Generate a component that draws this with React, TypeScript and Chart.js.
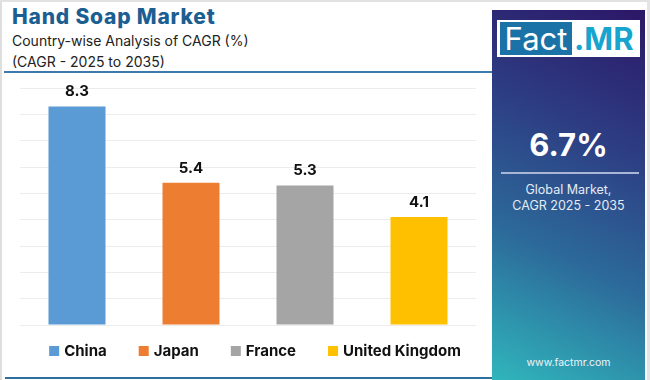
import React, { useEffect, useRef } from "react";
import { Chart, registerables } from "chart.js";

Chart.register(...registerables);

const categories = ["China", "Japan", "France", "United Kingdom"];
const cagrValues = [8.3, 5.4, 5.3, 4.1];
const barColors = ["#5b9bd5", "#ed7d31", "#a5a5a5", "#ffc000"];
const axisMin = 0;
const axisMax = 9;
const axisStep = 1;

const titleText = "Hand Soap Market";
const subtitleLines = ["Country-wise Analysis of CAGR (%)", "(CAGR - 2025 to 2035)"];
const globalValue = "6.7%";
const globalLines = ["Global Market,", "CAGR 2025 - 2035"];
const siteText = "www.factmr.com";

const FONT = "Inter, 'Noto Sans', sans-serif";

const valueLabelPlugin = {
  id: "valueLabels",
  afterDatasetsDraw(chart: any) {
    const ctx = chart.ctx;
    const meta = chart.getDatasetMeta(0);
    ctx.save();
    ctx.font = `700 15px ${FONT}`;
    ctx.fillStyle = "#111111";
    ctx.textAlign = "center";
    ctx.textBaseline = "alphabetic";
    meta.data.forEach((bar: any, i: number) => {
      ctx.fillText(String(cagrValues[i]), bar.x, bar.y - 10);
    });
    ctx.restore();
  },
};

const customLegendPlugin = {
  id: "customLegend",
  afterDraw(chart: any) {
    const ctx = chart.ctx;
    const box = 10;
    const gapText = 5;
    const gapItem = 32;
    ctx.save();
    ctx.font = `700 15px ${FONT}`;
    const widths = categories.map((c) => box + gapText + ctx.measureText(c).width);
    const total = widths.reduce((a, b) => a + b, 0) + gapItem * (categories.length - 1);
    const centerX = chart.chartArea.left + chart.chartArea.width / 2 + 7;
    const cy = chart.chartArea.bottom + 25;
    let x = centerX - total / 2;
    categories.forEach((c, i) => {
      ctx.fillStyle = barColors[i];
      ctx.fillRect(x, cy - box / 2 + 1, box, box);
      ctx.fillStyle = "#111111";
      ctx.textAlign = "left";
      ctx.textBaseline = "middle";
      ctx.fillText(c, x + box + gapText, cy + 1);
      x += widths[i] + gapItem;
    });
    ctx.restore();
  },
};

function BarChart() {
  const ref = useRef<HTMLCanvasElement | null>(null);
  useEffect(() => {
    if (!ref.current) return;
    const chart = new Chart(ref.current, {
      type: "bar",
      data: {
        labels: categories,
        datasets: [
          {
            data: cagrValues,
            backgroundColor: barColors,
            borderWidth: 0,
            barPercentage: 0.5,
            categoryPercentage: 1,
          },
        ],
      },
      options: {
        animation: false,
        responsive: false,
        maintainAspectRatio: false,
        layout: { padding: { left: 20, right: 14, top: 15, bottom: 48 } },
        scales: {
          x: {
            grid: { display: false, drawTicks: false },
            ticks: { display: false },
            border: { display: false },
          },
          y: {
            min: axisMin,
            max: axisMax,
            ticks: { display: false, stepSize: axisStep },
            grid: { color: "#ececec", lineWidth: 1, drawTicks: false },
            border: { display: false },
          },
        },
        plugins: {
          tooltip: { enabled: false },
          legend: { display: false },
        },
      },
      plugins: [valueLabelPlugin, customLegendPlugin],
    });
    return () => chart.destroy();
  }, []);
  return <canvas ref={ref} width={490} height={300} style={{ display: "block" }} />;
}

export default function App() {
  useEffect(() => {
    document.body.style.margin = "0";
  }, []);
  return (
    <div
      style={{
        position: "fixed",
        left: 0,
        top: 0,
        width: 650,
        height: 380,
        background: "#ffffff",
        overflow: "hidden",
        fontFamily: FONT,
      }}
    >
      <div style={{ position: "absolute", left: 0, top: 0, width: 2, height: 380, background: "#dedede" }} />
      <div style={{ position: "absolute", left: 0, top: 0, width: 650, height: 2, background: "#e2e2e2" }} />
      <div style={{ position: "absolute", left: 647, top: 0, width: 3, height: 380, background: "#e4e4e4" }} />
      <div
        style={{
          position: "absolute",
          left: 12,
          top: 4,
          fontSize: 21,
          letterSpacing: 0.8,
          fontWeight: 800,
          color: "#1b5e91",
          whiteSpace: "nowrap",
        }}
      >
        {titleText}
      </div>
      <div style={{ position: "absolute", left: 12, top: 31, fontSize: 14, color: "#222", lineHeight: "20.5px", whiteSpace: "nowrap" }}>
        {subtitleLines.map((l) => (
          <div key={l}>{l}</div>
        ))}
      </div>
      <div style={{ position: "absolute", left: 4, top: 71, width: 488, height: 2, background: "#3d7aab" }} />
      <div style={{ position: "absolute", left: 0, top: 73 }}>
        <BarChart />
      </div>
      <div style={{ position: "absolute", left: 5, top: 377, width: 487, height: 2, background: "#2f6f9f" }} />
      <div
        style={{
          position: "absolute",
          left: 492,
          top: 10,
          width: 153,
          height: 370,
          background: "linear-gradient(205deg, #2c1767 0%, #2d3f84 35%, #2c6a9a 65%, #30b6bc 100%)",
        }}
      >
        <div style={{ position: "absolute", left: 5, top: 10, width: 143, height: 37, background: "#ffffff" }}>
          <div
            style={{
              position: "absolute",
              left: 3,
              top: 2,
              width: 72,
              height: 33,
              background: "#1b72a6",
              color: "#ffffff",
              fontSize: 31,
              lineHeight: "33px",
              fontWeight: 400,
              textAlign: "center",
            }}
          >
            Fact
          </div>
          <div style={{ position: "absolute", left: 77, top: 2, fontSize: 31, lineHeight: "33px", fontWeight: 700, color: "#17a5cf" }}>
            .MR
          </div>
        </div>
        <div style={{ position: "absolute", left: 0, width: 153, top: 116, textAlign: "center", color: "#fff", fontSize: 31, fontWeight: 700 }}>
          {globalValue}
        </div>
        <div style={{ position: "absolute", left: 9, top: 162, width: 138, height: 2, background: "#a9b6d6" }} />
        <div style={{ position: "absolute", left: 0, width: 153, top: 172, textAlign: "center", color: "#e6ecf4", fontSize: 12.5, lineHeight: "16px" }}>
          {globalLines.map((l) => (
            <div key={l}>{l}</div>
          ))}
        </div>
        <div style={{ position: "absolute", left: 0, width: 153, top: 346, textAlign: "center", color: "#eef4f8", fontSize: 10.5 }}>
          {siteText}
        </div>
      </div>
    </div>
  );
}
